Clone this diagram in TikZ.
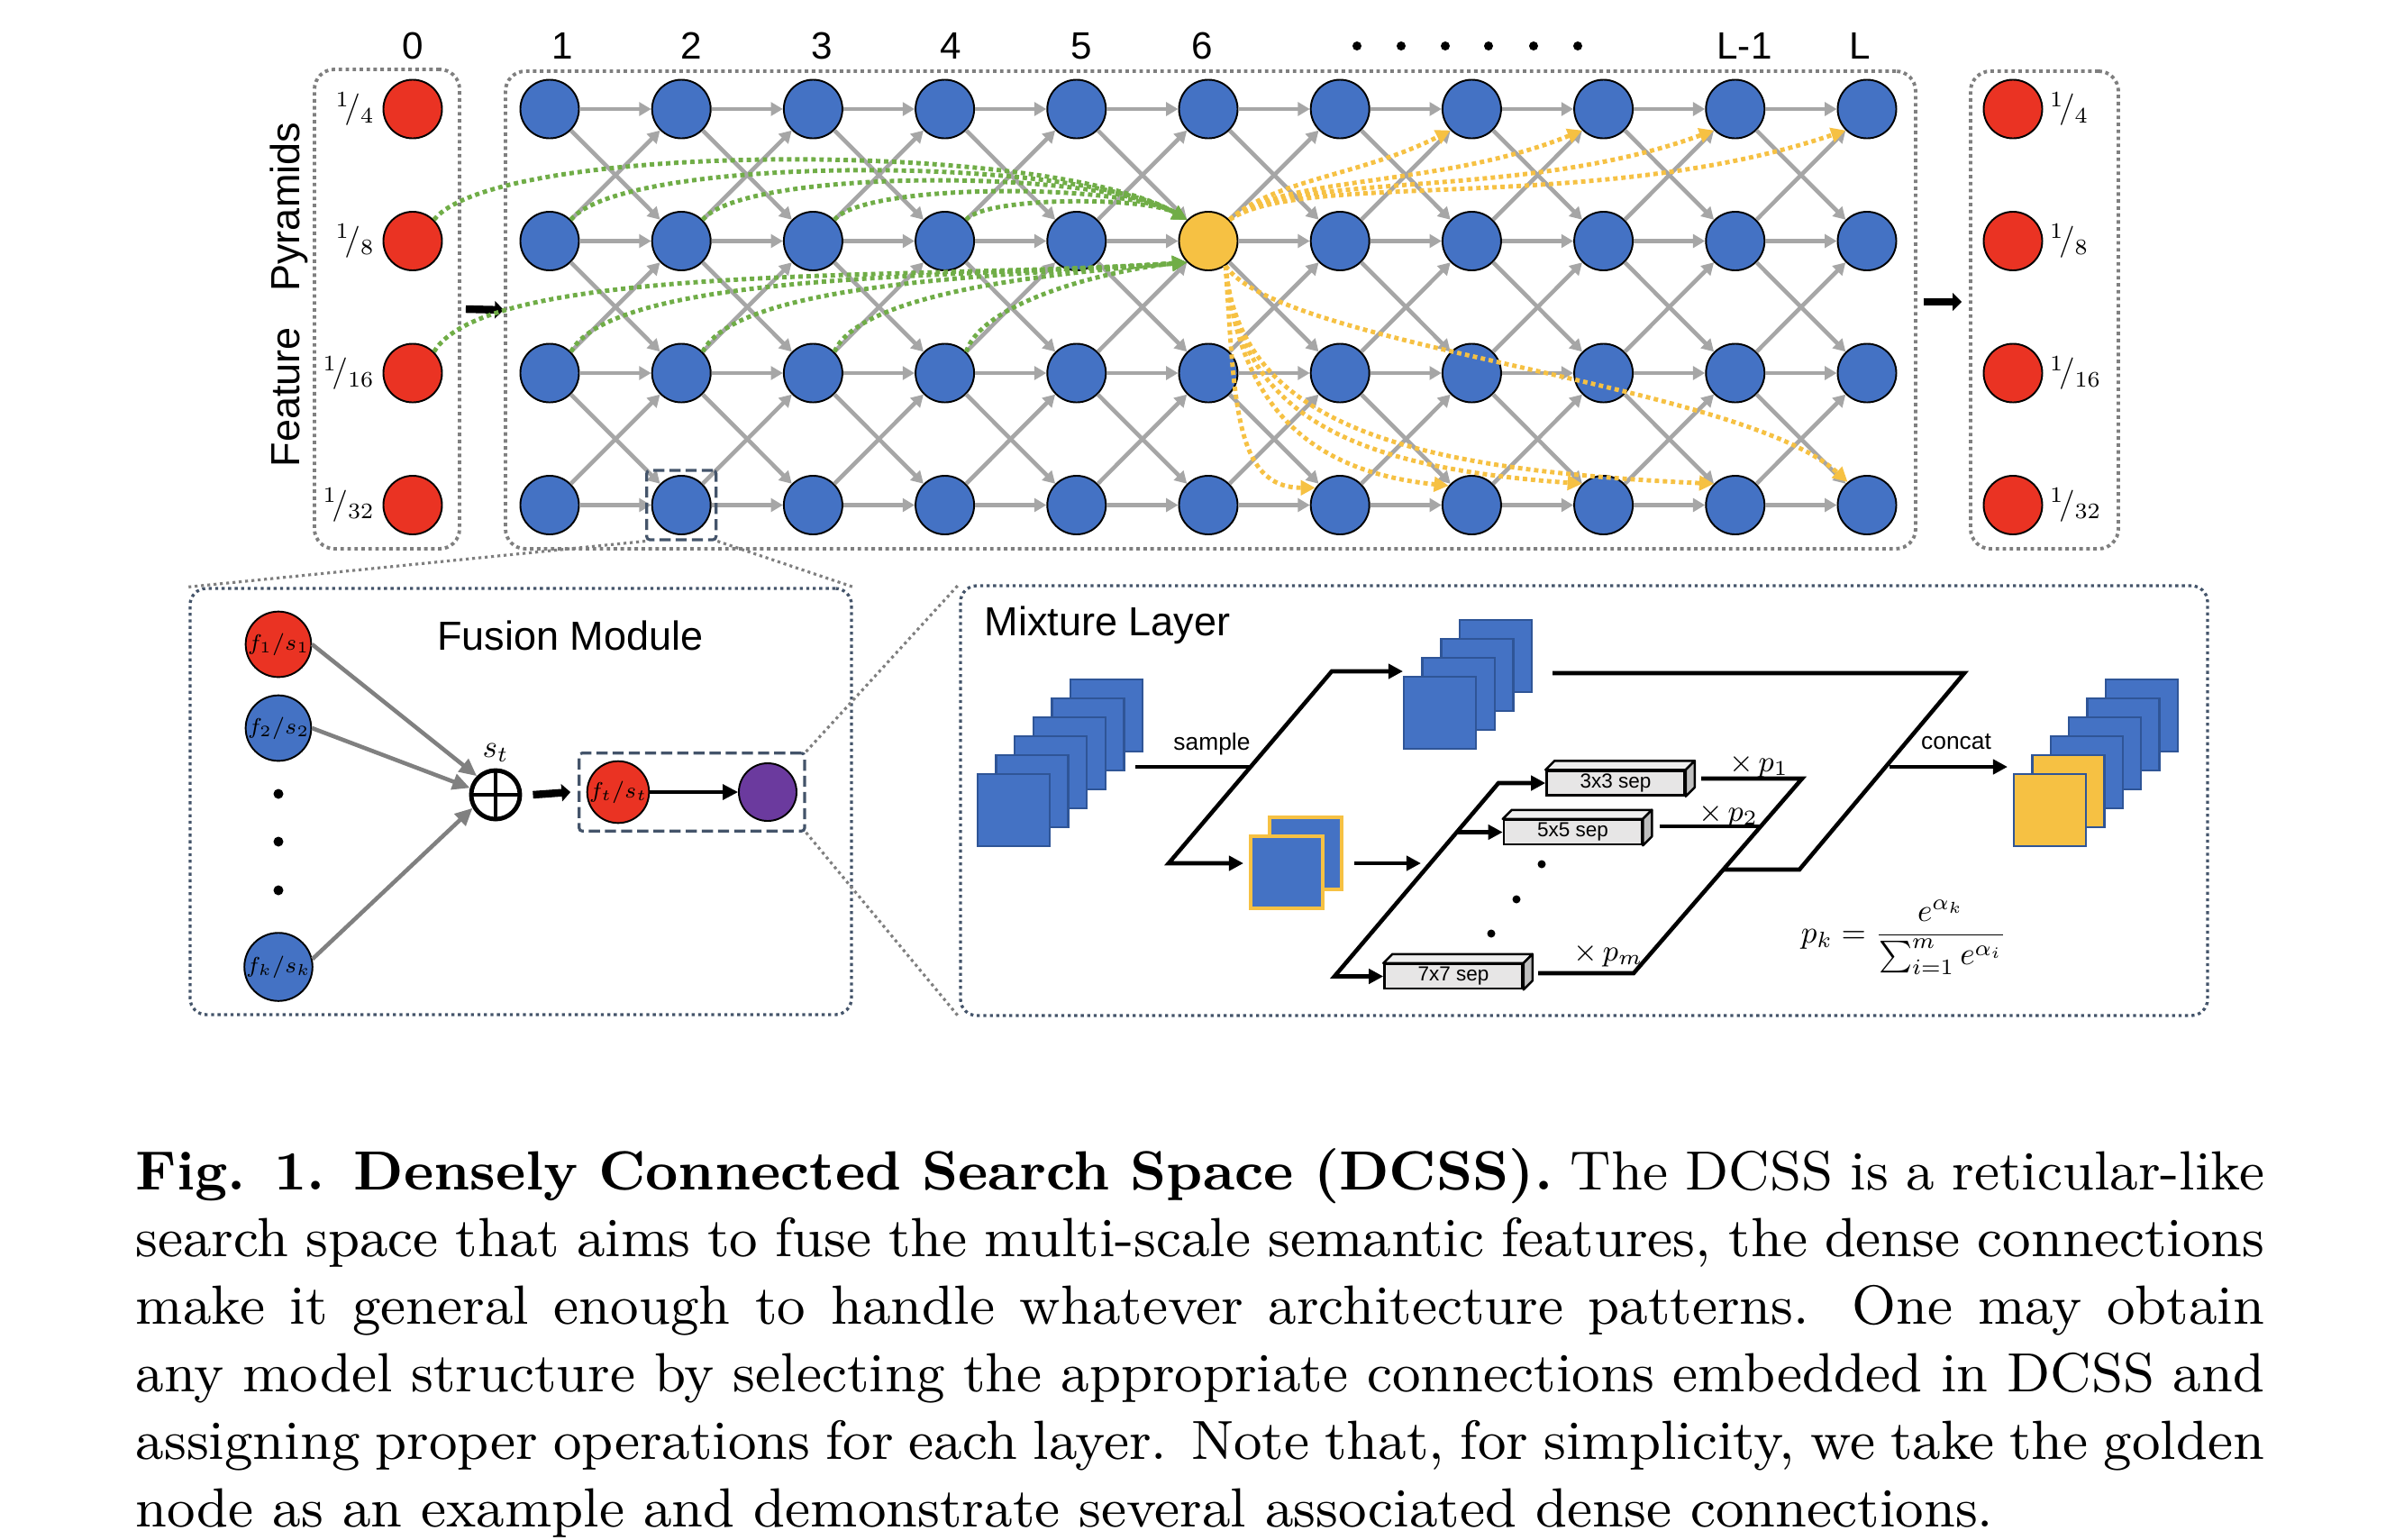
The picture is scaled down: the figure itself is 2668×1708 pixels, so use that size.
\RequirePackage{fix-cm}
\documentclass[tikz,border=0pt]{standalone}
\usepackage{amsmath}
\usepackage{fontspec}
\setsansfont{Liberation Sans}
\usepackage{graphicx}
\usetikzlibrary{arrows.meta,positioning,fit}
\definecolor{cellblue}{HTML}{4472C4}
\definecolor{sheetedge}{HTML}{2F5597}
\definecolor{pyrred}{HTML}{EA3323}
\definecolor{golden}{HTML}{F6C143}
\definecolor{dgreen}{HTML}{70AD47}
\definecolor{linkgray}{HTML}{A6A6A6}
\definecolor{fusegray}{HTML}{808080}
\definecolor{boxgray}{HTML}{7F7F7F}
\definecolor{slate}{HTML}{44546A}
\definecolor{fusepurple}{HTML}{6B3A9E}
\definecolor{opfront}{HTML}{E7E6E6}
\definecolor{opside}{HTML}{BFBFBF}
\definecolor{optop}{HTML}{EFEFEF}

\begin{document}
\begin{tikzpicture}[x=0.01cm,y=-0.01cm,
    cell/.style={circle,draw=black,line width=0.55pt,minimum size=0.65cm,inner sep=0pt,fill=cellblue},
    pyr/.style={cell,fill=pyrred},
    link/.style={draw=linkgray,line width=1.3pt,-{Triangle[length=3.8pt,width=4.2pt]}},
    dense/.style={line width=1.4pt,dash pattern=on 1.4pt off 1.15pt,-{Triangle[length=4.6pt,width=4.6pt]}},
    grp/.style={draw=boxgray,line width=1.1pt,dash pattern=on 1.1pt off 1.1pt,rounded corners=0.22cm,inner sep=0pt},
    panel/.style={draw=slate,line width=0.95pt,dash pattern=on 0.95pt off 1.1pt,rounded corners=0.18cm,inner sep=0pt},
    zoomline/.style={draw=boxgray,line width=0.9pt,dash pattern=on 0.9pt off 1.1pt},
    pick/.style={draw=slate,line width=0.9pt,dash pattern=on 3.5pt off 1.6pt,rounded corners=1pt},
    fat/.style={line width=2.4pt,-{Triangle[length=2.8pt,width=5.4pt]}},
    fuse/.style={draw=fusegray,line width=1.3pt,-{Triangle[length=5.5pt,width=5pt]}},
    flow/.style={line width=1.3pt,-{Triangle[length=4.6pt,width=4.6pt]}},
    fork/.style={line width=1.3pt,{Triangle[length=4.6pt,width=4.6pt]}-{Triangle[length=4.6pt,width=4.6pt]}},
    bar/.style={line width=1.3pt},
    sheet/.style={draw=sheetedge,line width=0.7pt,fill=cellblue,minimum size=0.8cm,inner sep=0pt},
    op/.style={draw=black,line width=0.7pt,fill=opfront,minimum width=1.53cm,minimum height=0.27cm,
      inner sep=0pt,font=\sffamily\fontsize{6.4}{7}\selectfont},
    head/.style={font=\sffamily\fontsize{12.8}{15}\selectfont,inner sep=0pt},
    colnum/.style={font=\sffamily\fontsize{12}{14}\selectfont,inner sep=0pt},
    tag/.style={font=\sffamily\fontsize{7.5}{9}\selectfont,inner sep=0pt},
    ratio/.style={font=\fontsize{10}{12}\selectfont,inner sep=0pt},
    wt/.style={font=\fontsize{9.5}{11}\selectfont,inner sep=0pt}]
  \useasboundingbox (0,0) rectangle (2668,1708);

  % search space
  \node[grp,fit={(349,77) (510,609)}] (pyrin) {};
  \node[grp,fit={(561,79) (2126,609)}] (grid) {};
  \node[grp,fit={(2187,79) (2351,609)}] (pyrout) {};
  \node[head,rotate=90] (fp) at (321,327) {Feature\hspace{0.6em} Pyramids};
  \foreach \t/\x in {0/458,1/624,2/767,3/912,4/1055,5/1200,6/1334,L-1/1936,L/2064}
    \node[colnum] (h-\t) at (\x,51) {\t};
  \foreach \x in {1506,1555,1604,1652,1702,1751}
    \fill (\x,51) circle[radius=5];

  \foreach \r/\s in {0/4,1/8,2/16,3/32}{
    \node[pyr] (p-\r) at (458,{121+\r*146.5}) {};
    \node[ratio,left=0.08cm of p-\r] (pl-\r) {$^{1}\!/_{\s}$};
    \node[pyr] (q-\r) at (2234,{121+\r*146.5}) {};
    \node[ratio,right=0.07cm of q-\r] (ql-\r) {$^{1}\!/_{\s}$};
  }
  \foreach \c in {1,...,11}
    \foreach \r in {0,...,3}{
      \def\fc{cellblue}
      \ifnum\c=6 \ifnum\r=1 \def\fc{golden}\fi\fi
      \node[cell,fill=\fc] (n-\c-\r) at ({610+(\c-1)*146.2},{121+\r*146.5}) {};
    }
  \foreach \c [evaluate=\c as \d using int(\c+1)] in {1,...,10}
    \foreach \r in {0,...,3}{
      \draw[link] (n-\c-\r) -- (n-\d-\r);
      \ifnum\r>0 \pgfmathtruncatemacro\u{\r-1}\draw[link] (n-\c-\r) -- (n-\d-\u);\fi
      \ifnum\r<3 \pgfmathtruncatemacro\w{\r+1}\draw[link] (n-\c-\r) -- (n-\d-\w);\fi
    }
  \draw[fat] ([xshift=0.05cm]pyrin.east) -- (grid.west);
  \draw[fat] ([xshift=0.07cm,yshift=0.09cm]grid.east) -- ([xshift=-0.08cm,yshift=0.09cm]pyrout.west);

  % dense connections of the golden node
  \foreach \s/\ax/\ay/\bx/\by in {p-1/70/-88/-150/-88, n-1-1/58/-72/-123/-72, n-2-1/46/-57/-97/-57,
      n-3-1/33/-41/-71/-41, n-4-1/21/-26/-45/-26}
    \draw[dense,dgreen] (\s.45) .. controls +(\ax,\ay) and +(\bx,\by) .. (n-6-1.135);
  \foreach \s/\ax/\ay/\bx/\by in {p-2/60/-100/-300/20, n-1-2/50/-90/-240/17, n-2-2/40/-80/-180/14,
      n-3-2/30/-70/-120/10, n-4-2/20/-60/-70/6}
    \draw[dense,dgreen] (\s.45) .. controls +(\ax,\ay) and +(\bx,\by) .. (n-6-1.225);
  \foreach \t/\ax/\ay/\bx/\by in {n-8-0/50/-45/-98/50, n-9-0/60/-50/-157/64, n-10-0/70/-55/-216/79,
      n-11-0/80/-55/-274/93}
    \draw[dense,golden] (n-6-1.45) .. controls +(\ax,\ay) and +(\bx,\by) .. (\t.225);
  \foreach \t/\e/\ax/\ay/\bx/\by in {n-7-3/145/10/150/-90/0, n-8-3/140/15/160/-150/-15,
      n-9-3/135/15/170/-250/-18, n-10-3/135/15/180/-330/-15, n-11-3/130/60/90/-120/-110}
    \draw[dense,golden] (n-6-1.-55) .. controls +(\ax,\ay) and +(\bx,\by) .. (\t.\e);

  \node[pick,fit=(n-2-3),inner sep=0.05cm] (sel) {};

  % fusion module
  \node[panel,fit={(211,653) (945,1126)}] (fusebox) {};
  \node[head] (fusettl) at (633,705) {Fusion Module};
  \node[pyr,minimum size=0.64cm,font=\fontsize{7}{8}\selectfont] (f1) at (309,715) {$f_1/s_1$};
  \node[cell,minimum size=0.64cm,font=\fontsize{7}{8}\selectfont] (f2) at (309,808) {$f_2/s_2$};
  \node[cell,minimum size=0.64cm,font=\fontsize{7}{8}\selectfont] (fk) at (309,1073) {$f_k/s_k$};
  \foreach \y in {881,934,988}
    \fill (309,\y) circle[radius=5.5];
  \node[circle,draw,line width=1.4pt,minimum size=0.54cm,inner sep=0pt] (plus) at (550,882) {};
  \draw[line width=1.4pt] (plus.north) -- (plus.south) (plus.west) -- (plus.east);
  \node[ratio,above=0.06cm of plus] (st) {$s_t$};
  \draw[fuse] (f1.east) -- (plus.135);
  \draw[fuse] (f2.east) -- (plus.165);
  \draw[fuse] (fk.13) -- (plus.210);
  \node[pyr,minimum size=0.64cm,font=\fontsize{7}{8}\selectfont] (ft) at (686,879) {$f_t/s_t$};
  \node[cell,fill=fusepurple,minimum size=0.64cm] (pu) at (852,879) {};
  \node[pick,fit=(ft)(pu),inner sep=0.08cm] (pickbox) {};
  \draw[fat] ([xshift=0.12cm]plus.east) -- ([xshift=-0.08cm]pickbox.west);
  \draw[line width=0.9pt,-{Triangle[length=4.8pt,width=4.8pt]}] (ft) -- (pu);

  \draw[zoomline] (sel.south west) -- (fusebox.north west);
  \draw[zoomline] (sel.south east) -- (fusebox.north east);

  % mixture layer
  \node[panel,fit={(1066,650) (2450,1127)}] (mix) {};
  \draw[zoomline] (pickbox.north east) -- (mix.north west);
  \draw[zoomline] (pickbox.south east) -- (mix.south west);
  \node[head,anchor=west] (mixttl) at (1092,694) {Mixture Layer};

  \foreach \k in {5,...,0}
    \node[sheet] (inp-\k) at ({1125+20.6*\k},{899-21*\k}) {};
  \foreach \k in {3,...,0}
    \node[sheet] (keep-\k) at ({1598+20.7*\k},{791-21*\k}) {};
  \foreach \k in {1,0}
    \node[sheet,draw=golden,line width=1pt] (samp-\k) at ({1428+21*\k},{968-21*\k}) {};
  \foreach \k in {5,...,0}{
    \def\fc{cellblue}\ifnum\k<2 \def\fc{golden}\fi
    \node[sheet,fill=\fc] (cat-\k) at ({2275+20.4*\k},{899-21*\k}) {};
  }

  \coordinate (smp0) at (1260,851);
  \coordinate (smp1) at (1388,851);
  \coordinate (up1) at (1478,745);
  \coordinate (dn1) at (1297,958);
  \coordinate (keepin) at (1557,745);
  \coordinate (sampin) at (1380,958);
  \coordinate (sampout) at (1503,958);
  \coordinate (brin) at (1577,958);
  \draw[bar] (smp0) -- (smp1);
  \node[tag] (smp) at (1345,826) {sample};
  \draw[fork] (keepin) -- (up1) -- (dn1) -- (sampin);
  \draw[flow] (sampout) -- (brin);

  \node[op] (op3) at (1793,869) {3x3 sep};
  \node[op] (op5) at (1745.5,923.5) {5x5 sep};
  \node[op] (op7) at (1613,1083.5) {7x7 sep};
  \foreach \o in {op3,op5,op7}{
    \filldraw[fill=optop,line width=0.7pt,line join=round] (\o.north west) -- ++(10,-10)
      -- ([shift={(10,-10)}]\o.north east) -- (\o.north east) -- cycle;
    \filldraw[fill=opside,line width=0.7pt,line join=round] (\o.north east) -- ++(10,-10)
      -- ([shift={(10,-10)}]\o.south east) -- (\o.south east) -- cycle;
  }
  \coordinate (t2) at (1663,869);
  \coordinate (m2) at (1617,923.5);
  \coordinate (b2) at (1481,1083.5);
  \draw[fork] (op3.west) -- (t2) -- (b2) -- (op7.west);
  \draw[flow] (m2) -- (op5.west);
  \foreach \x/\y in {1711/959,1683/998,1655/1036}
    \fill (\x,\y) circle[radius=4.5];

  \coordinate (o3) at (1888,864);
  \coordinate (r1) at (2000,864);
  \coordinate (r3) at (1813,1080);
  \coordinate (o7) at (1707,1080);
  \coordinate (o5) at (1842,917);
  \coordinate (r2) at (1954,917);
  \coordinate (m3) at (1913,965);
  \coordinate (r4) at (1997,965);
  \coordinate (r5) at (2180,747);
  \coordinate (keepout) at (1723,747);
  \coordinate (c0) at (2097,851);
  \coordinate (c1) at (2228,851);
  \draw[bar,line join=miter] (o3) -- (r1) -- (r3) -- (o7);
  \draw[bar] (o5) -- (r2);
  \draw[bar,line join=miter] (m3) -- (r4) -- (r5) -- (keepout);
  \draw[flow] (c0) -- (c1);
  \node[tag] (cat) at (2171,823) {concat};
  \node[wt] (w1) at (1952,850) {$\times\,p_1$};
  \node[wt] (w2) at (1918,905) {$\times\,p_2$};
  \node[wt] (wm) at (1785,1060) {$\times\,p_m$};
  \node[font=\fontsize{10}{12}\selectfont,inner sep=0pt] (pk) at (2113,1040)
    {$p_k=\dfrac{e^{\alpha_k}}{\sum_{i=1}^{m}e^{\alpha_i}}$};

  % caption
  \node[anchor=base west,inner sep=0pt] (cap) at (150,1320) {\scalebox{1.9355}{\parbox[t]{12.2cm}{%
    \fontsize{9}{11}\selectfont
    \makebox[\linewidth][s]{\textbf{Fig. 1. Densely Connected Search Space (DCSS).} The DCSS is a reticular-like}\par
    \makebox[\linewidth][s]{search space that aims to fuse the multi-scale semantic features, the dense connections}\par
    \makebox[\linewidth][s]{make it general enough to handle whatever architecture patterns. One may obtain}\par
    \makebox[\linewidth][s]{any model structure by selecting the appropriate connections embedded in DCSS and}\par
    \makebox[\linewidth][s]{assigning proper operations for each layer. Note that, for simplicity, we take the golden}\par
    node as an example and demonstrate several associated dense connections.}}};
\end{tikzpicture}
\end{document}
